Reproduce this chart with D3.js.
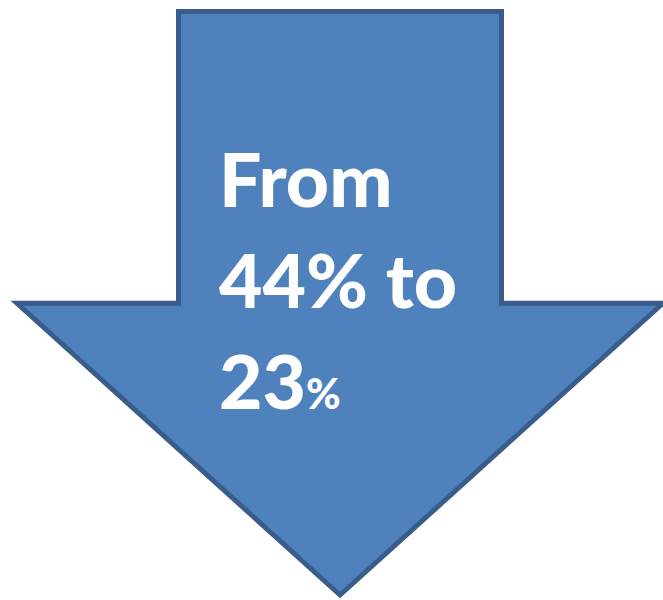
<!DOCTYPE html>
<html>
<head>
<meta charset="utf-8">
<script src="https://cdn.jsdelivr.net/npm/d3@7"></script>
<style>
  html, body { margin: 0; padding: 0; background: #fff; }
</style>
</head>
<body>
<div id="chart"></div>
<script>
// share went down from one value to another
var fromValue = 44,
    toValue = 23;
var words = ["From", "to"];

var width = 663,
    height = 600;

var svg = d3.select("#chart").append("svg")
    .attr("width", width)
    .attr("height", height);

// arrow layout in unit space, mapped to pixels through scales
var x = d3.scaleLinear().domain([-1, 1]).range([17, 663]);
var y = d3.scaleLinear().domain([0, 1]).range([11.5, 595]);

var shaftHalf = 0.5, headTop = 0.5;

var arrow = [
  [-shaftHalf, 0], [shaftHalf, 0], [shaftHalf, headTop], [1, headTop],
  [0, 1], [-1, headTop], [-shaftHalf, headTop]
];

svg.append("path")
    .attr("d", d3.line()
      .x(function(d) { return x(d[0]); })
      .y(function(d) { return y(d[1]); })(arrow) + "Z")
    .attr("fill", "#4F81BD")
    .attr("stroke", "#385D8A")
    .attr("stroke-width", 5)
    .attr("stroke-linejoin", "miter");

var txt = svg.append("g")
    .attr("font-family", "Lato, sans-serif")
    .attr("font-weight", 900)
    .attr("fill", "#fff")
    .attr("font-size", 75);

txt.append("text")
    .attr("x", 219)
    .attr("y", 207)
    .text(words[0]);

txt.append("text")
    .attr("x", 219)
    .attr("y", 308)
    .text(fromValue + "% " + words[1]);

var last = txt.append("text")
    .attr("x", 219)
    .attr("y", 409);
last.append("tspan").text(toValue);
last.append("tspan").attr("font-size", 42).text("%");
</script>
</body>
</html>
